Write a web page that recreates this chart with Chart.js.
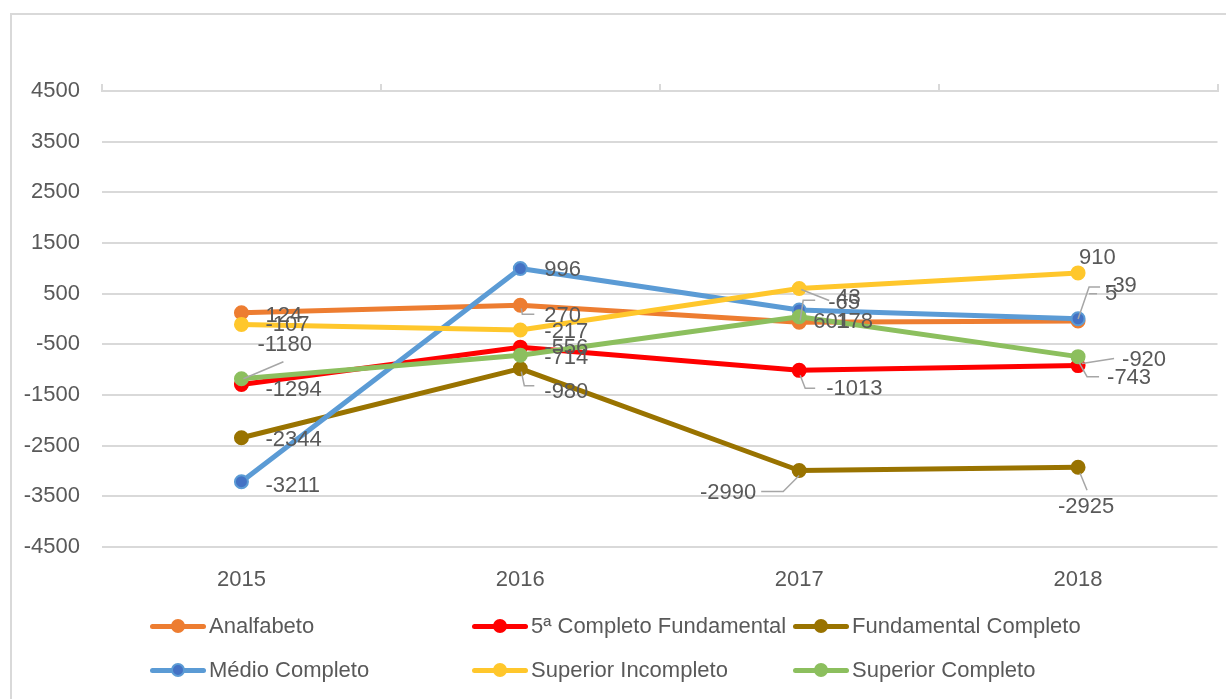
<!DOCTYPE html>
<html>
<head>
<meta charset="utf-8">
<script src="https://cdn.jsdelivr.net/npm/chart.js@4.4.1/dist/chart.umd.min.js"></script>
<style>
  body { margin: 0; width: 1226px; height: 699px; overflow: hidden; background: #fff; font-family: "Liberation Sans", Arial, sans-serif; }
  #frame { position: absolute; left: 10px; top: 13px; width: 1260px; height: 740px; border: 2px solid #d9d9d9; box-sizing: border-box; }
  #wrap { position: absolute; left: 0; top: 0; width: 1226px; height: 600px; }
  #legend { position: absolute; left: 0; top: 0; width: 1226px; height: 699px; pointer-events: none; }
  .item { position: absolute; display: flex; align-items: center; height: 30px; color: #595959; font-size: 22px; white-space: nowrap; }
  .mark { position: relative; width: 56px; height: 5px; border-radius: 3px; margin-right: 3px; }
  .mark span { position: absolute; left: 21px; top: -5px; width: 14px; height: 14px; border-radius: 50%; box-sizing: border-box; }
</style>
</head>
<body>
<div id="frame"></div>
<div id="wrap"><canvas id="chart" width="1226" height="600"></canvas></div>
<div id="legend"></div>
<script>
// categories and series
const years = ['2015', '2016', '2017', '2018'];
const analfabeto = [124, 270, -65, -39];
const quintaCompletoFundamental = [-1294, -556, -1013, -920];
const fundamentalCompleto = [-2344, -980, -2990, -2925];
const medioCompleto = [-3211, 996, 178, 5];
const superiorIncompleto = [-107, -217, 601, 910];
const superiorCompleto = [-1180, -714, 43, -743];

const seriesNames = ['Analfabeto', '5ª Completo Fundamental', 'Fundamental Completo',
    'Médio Completo', 'Superior Incompleto', 'Superior Completo'];
const seriesValues = [analfabeto, quintaCompletoFundamental, fundamentalCompleto,
    medioCompleto, superiorIncompleto, superiorCompleto];
const lineColors = ['#ED7D31', '#FF0000', '#997300', '#5B9BD5', '#FFC72C', '#8CBF5E'];
const pointColors = ['#ED7D31', '#FF0000', '#997300', '#4472C4', '#FFC72C', '#8CBF5E'];

// where each value label sits relative to its point: [dx, dy, align, leader polyline]
const labelSpots = [
    [[24, 3], [24, 11, 'left', [[1, 3], [2, 9], [14, 9]]], [29, -19, 'left', [[1, -2], [4, -22], [16, -22]]], [27, -35, 'left', [[0, -2], [11, -34], [22, -34]]]],
    [[24, 5], [24, 1], [27, 19, 'left', [[1, 5], [6, 18], [16, 18]]], [44, -6, 'left', [[4, -2], [36, -7]]]],
    [[24, 2], [24, 23, 'left', [[1, 3], [4, 17], [14, 17]]], [-43, 22, 'right', [[0, 5], [-16, 21], [-38, 21]]], [8, 40, 'center', [[2, 6], [9, 23]]]],
    [[24, 4], [24, 1], [37, 12], [27, -25, 'left', [[11, -25], [19, -25]]]],
    [[24, 1], [24, 2], [14, 33, 'left', [[2, 1], [30, 12]]], [1, -15]],
    [[16, -34, 'left', [[2, 0], [42, -17]]], [24, 3], [37, -19], [29, 21, 'left', [[1, 6], [9, 20], [21, 20]]]]
];

const datasets = seriesNames.map((name, i) => ({
    label: name,
    data: seriesValues[i],
    borderColor: lineColors[i],
    backgroundColor: pointColors[i],
    pointBackgroundColor: pointColors[i],
    pointBorderColor: lineColors[i],
    pointBorderWidth: 2,
    pointRadius: 6.5,
    borderWidth: 5,
    borderJoinStyle: 'round',
    tension: 0,
    order: seriesNames.length - 1 - i
}));

const valueLabels = {
    id: 'valueLabels',
    afterDatasetsDraw(chart) {
        const ctx = chart.ctx;
        ctx.save();
        ctx.font = '22px "Liberation Sans", Arial, sans-serif';
        ctx.textBaseline = 'middle';
        datasets.forEach((ds, i) => {
            const meta = chart.getDatasetMeta(i);
            meta.data.forEach((pt, j) => {
                const spot = labelSpots[i][j];
                const leader = spot[3];
                if (leader) {
                    ctx.strokeStyle = '#a6a6a6';
                    ctx.lineWidth = 1.5;
                    ctx.beginPath();
                    leader.forEach(([lx, ly], k) => {
                        if (k === 0) ctx.moveTo(pt.x + lx, pt.y + ly);
                        else ctx.lineTo(pt.x + lx, pt.y + ly);
                    });
                    ctx.stroke();
                }
                ctx.fillStyle = '#595959';
                ctx.textAlign = spot[2] || 'left';
                ctx.fillText(String(ds.data[j]), pt.x + spot[0], pt.y + spot[1]);
            });
        });
        ctx.restore();
    }
};

new Chart(document.getElementById('chart'), {
    type: 'line',
    data: { labels: years, datasets: datasets },
    options: {
        responsive: false,
        animation: false,
        layout: { padding: { left: 0, right: 4, top: 71, bottom: 3 } },
        plugins: { legend: { display: false }, tooltip: { enabled: false } },
        scales: {
            x: {
                offset: true,
                grid: { display: false, drawTicks: false },
                border: { display: false },
                ticks: { color: '#595959', font: { size: 22, family: '"Liberation Sans", Arial' }, padding: 20 },
                afterFit: (scale) => { scale.height = 50; }
            },
            x2: {
                type: 'category',
                labels: years,
                position: 'top',
                offset: true,
                grid: { offset: true, drawOnChartArea: false, tickLength: 7, color: '#d9d9d9', lineWidth: 2 },
                border: { display: true, color: '#d9d9d9', width: 2 },
                ticks: { display: false },
                afterFit: (scale) => { scale.height = 20; }
            },
            y: {
                min: -4500,
                max: 4500,
                ticks: {
                    stepSize: 1000,
                    color: '#595959',
                    font: { size: 22, family: '"Liberation Sans", Arial' },
                    padding: 22,
                    callback: (value) => String(value)
                },
                grid: { color: '#d9d9d9', lineWidth: 2, drawTicks: false },
                border: { display: false },
                afterFit: (scale) => { scale.width = 102; }
            }
        }
    },
    plugins: [valueLabels]
});

// legend laid out in Excel's three columns
const legend = document.getElementById('legend');
const colX = [150, 472, 793];
const rowY = [611, 655];
seriesNames.forEach((name, i) => {
    const item = document.createElement('div');
    item.className = 'item';
    item.style.left = colX[i % 3] + 'px';
    item.style.top = rowY[Math.floor(i / 3)] + 'px';
    const mark = document.createElement('div');
    mark.className = 'mark';
    mark.style.background = lineColors[i];
    const dot = document.createElement('span');
    dot.style.background = pointColors[i];
    dot.style.border = '2px solid ' + lineColors[i];
    mark.appendChild(dot);
    item.appendChild(mark);
    item.appendChild(document.createTextNode(name));
    legend.appendChild(item);
});
</script>
</body>
</html>
